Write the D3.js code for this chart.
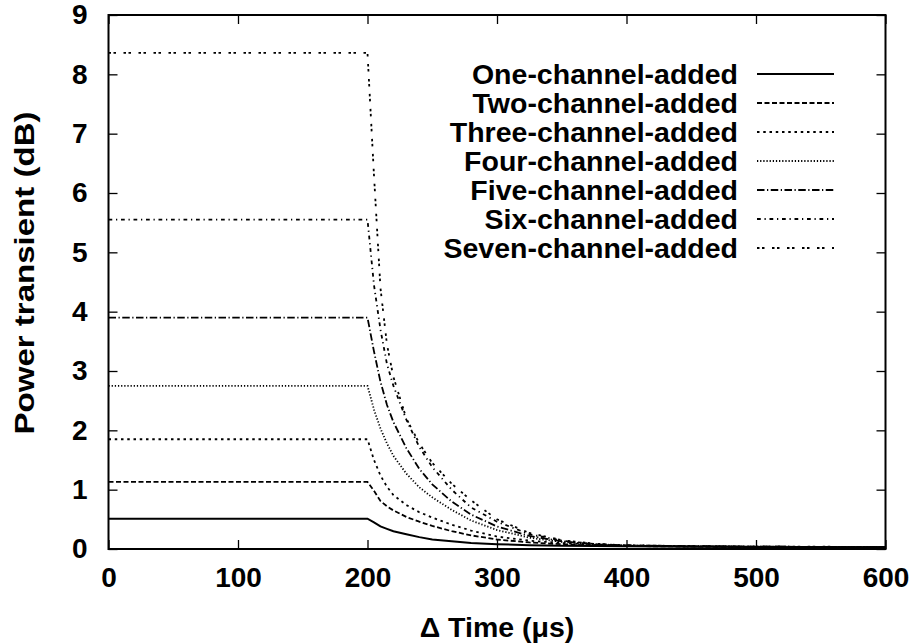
<!DOCTYPE html>
<html>
<head>
<meta charset="utf-8">
<script src="https://cdn.jsdelivr.net/npm/d3@7"></script>
<style>
  html, body { margin: 0; padding: 0; background: #fff; }
  svg text { font-family: "Liberation Sans", Arial, Helvetica, sans-serif; font-weight: bold; fill: #000; }
</style>
</head>
<body>
<svg id="chart" width="917" height="643"></svg>
<script>
// ---- data ----
const times = [0, 200, 205, 210, 215, 220, 230, 240, 250, 265, 280, 300, 325, 350, 375, 400, 450, 500, 550, 600];
const seriesNames = ["One-channel-added", "Two-channel-added", "Three-channel-added", "Four-channel-added",
                     "Five-channel-added", "Six-channel-added", "Seven-channel-added"];
const oneChannel   = [0.51, 0.51, 0.45, 0.38, 0.34, 0.30, 0.25, 0.20, 0.16, 0.13, 0.10, 0.08, 0.065, 0.055, 0.05, 0.045, 0.04, 0.035, 0.03, 0.03];
const twoChannel   = [1.13, 1.13, 0.98, 0.81, 0.72, 0.65, 0.54, 0.46, 0.39, 0.30, 0.23, 0.16, 0.11, 0.08, 0.06, 0.05, 0.04, 0.035, 0.03, 0.03];
const threeChannel = [1.85, 1.85, 1.50, 1.24, 1.05, 0.91, 0.74, 0.62, 0.53, 0.41, 0.31, 0.21, 0.14, 0.10, 0.07, 0.055, 0.045, 0.04, 0.035, 0.03];
const fourChannel  = [2.75, 2.75, 2.35, 2.03, 1.78, 1.57, 1.27, 1.04, 0.87, 0.66, 0.48, 0.32, 0.19, 0.12, 0.08, 0.06, 0.045, 0.04, 0.035, 0.03];
const fiveChannel  = [3.90, 3.90, 3.33, 2.82, 2.43, 2.14, 1.70, 1.35, 1.09, 0.80, 0.58, 0.38, 0.22, 0.13, 0.08, 0.06, 0.045, 0.04, 0.035, 0.03];
const sixChannel   = [5.55, 5.55, 4.45, 3.70, 3.12, 2.75, 2.18, 1.72, 1.38, 1.00, 0.70, 0.46, 0.25, 0.14, 0.085, 0.06, 0.05, 0.04, 0.035, 0.03];
const sevenChannel = [8.36, 8.36, 6.30, 4.40, 3.45, 2.90, 2.20, 1.78, 1.45, 1.10, 0.82, 0.50, 0.27, 0.15, 0.09, 0.06, 0.05, 0.04, 0.04, 0.03];
const xTicks = [0, 100, 200, 300, 400, 500, 600];
const yTicks = [0, 1, 2, 3, 4, 5, 6, 7, 8, 9];
const xTitle = "\u0394 Time (\u03bcs)";
const yTitle = "Power transient (dB)";

const seriesValues = [oneChannel, twoChannel, threeChannel, fourChannel, fiveChannel, sixChannel, sevenChannel];
const dashes = ["none", "5,2.5", "2.5,3.75", "1.25,1.9", "7.5,2.5,1.25,2.5", "3.75,3.75,1.25,3.75", "2.5,2.5,2.5,7.5"];

// ---- layout ----
const pL = 108.5, pR = 885.5, pT = 15, pB = 549;
const fs = 28;
const svg = d3.select("#chart");
const x = d3.scaleLinear().domain([0, 600]).range([pL, pR]);
const y = d3.scaleLinear().domain([0, 9]).range([pB, pT]);

// axes with inward ticks (mirrored)
const tk = 9;
const axB = svg.append("g").attr("transform", `translate(0,${pB})`)
  .call(d3.axisBottom(x).tickValues(xTicks).tickSizeInner(-tk).tickSizeOuter(0).tickPadding(24).tickFormat(d3.format("d")));
const axT = svg.append("g").attr("transform", `translate(0,${pT})`)
  .call(d3.axisTop(x).tickValues(xTicks).tickSizeInner(-tk).tickSizeOuter(0).tickFormat(""));
const axL = svg.append("g").attr("transform", `translate(${pL},0)`)
  .call(d3.axisLeft(y).tickValues(yTicks).tickSizeInner(-tk).tickSizeOuter(0).tickPadding(21).tickFormat(d3.format("d")));
const axR = svg.append("g").attr("transform", `translate(${pR},0)`)
  .call(d3.axisRight(y).tickValues(yTicks).tickSizeInner(-tk).tickSizeOuter(0).tickFormat(""));
[axB, axT, axL, axR].forEach(g => {
  g.select(".domain").remove();
  g.selectAll(".tick line").attr("stroke", "#000").attr("stroke-width", 1.3);
  g.selectAll("text").attr("font-size", fs).attr("font-family", "Liberation Sans, Arial, sans-serif").attr("font-weight", "bold");
});
axB.selectAll("text").attr("dy", "0.5em");

// series lines
const line = d3.line().x((d, i) => x(times[i])).y(d => y(d));
const plot = svg.append("g");
seriesValues.forEach((vals, i) => {
  plot.append("path")
    .datum(vals)
    .attr("d", line)
    .attr("fill", "none")
    .attr("stroke", "#000")
    .attr("stroke-width", i === 0 ? 2 : 1.8)
    .attr("stroke-dasharray", dashes[i]);
});

// border
svg.append("rect").attr("x", pL).attr("y", pT).attr("width", pR - pL).attr("height", pB - pT)
  .attr("fill", "none").attr("stroke", "#000").attr("stroke-width", 2);

// legend
const legTextRight = 738, legX1 = 757, legX2 = 834, legY0 = 74, legStep = 29;
seriesNames.forEach((name, i) => {
  const yy = legY0 + i * legStep;
  svg.append("text").attr("x", legTextRight).attr("y", yy).attr("dy", "0.36em")
    .attr("text-anchor", "end").attr("font-size", 28.5).text(name);
  svg.append("line").attr("x1", legX1).attr("x2", legX2).attr("y1", yy).attr("y2", yy)
    .attr("stroke", "#000").attr("stroke-width", i === 0 ? 2 : 1.8).attr("stroke-dasharray", dashes[i]);
});

// axis titles
svg.append("text").attr("x", 497).attr("y", 627).attr("dy", "0.35em")
  .attr("text-anchor", "middle").attr("font-size", 28.5).text(xTitle);
svg.append("text").attr("transform", `translate(24,273) rotate(-90) scale(1.18,1)`).attr("dy", "0.35em")
  .attr("text-anchor", "middle").attr("font-size", 28).text(yTitle);
</script>
</body>
</html>
